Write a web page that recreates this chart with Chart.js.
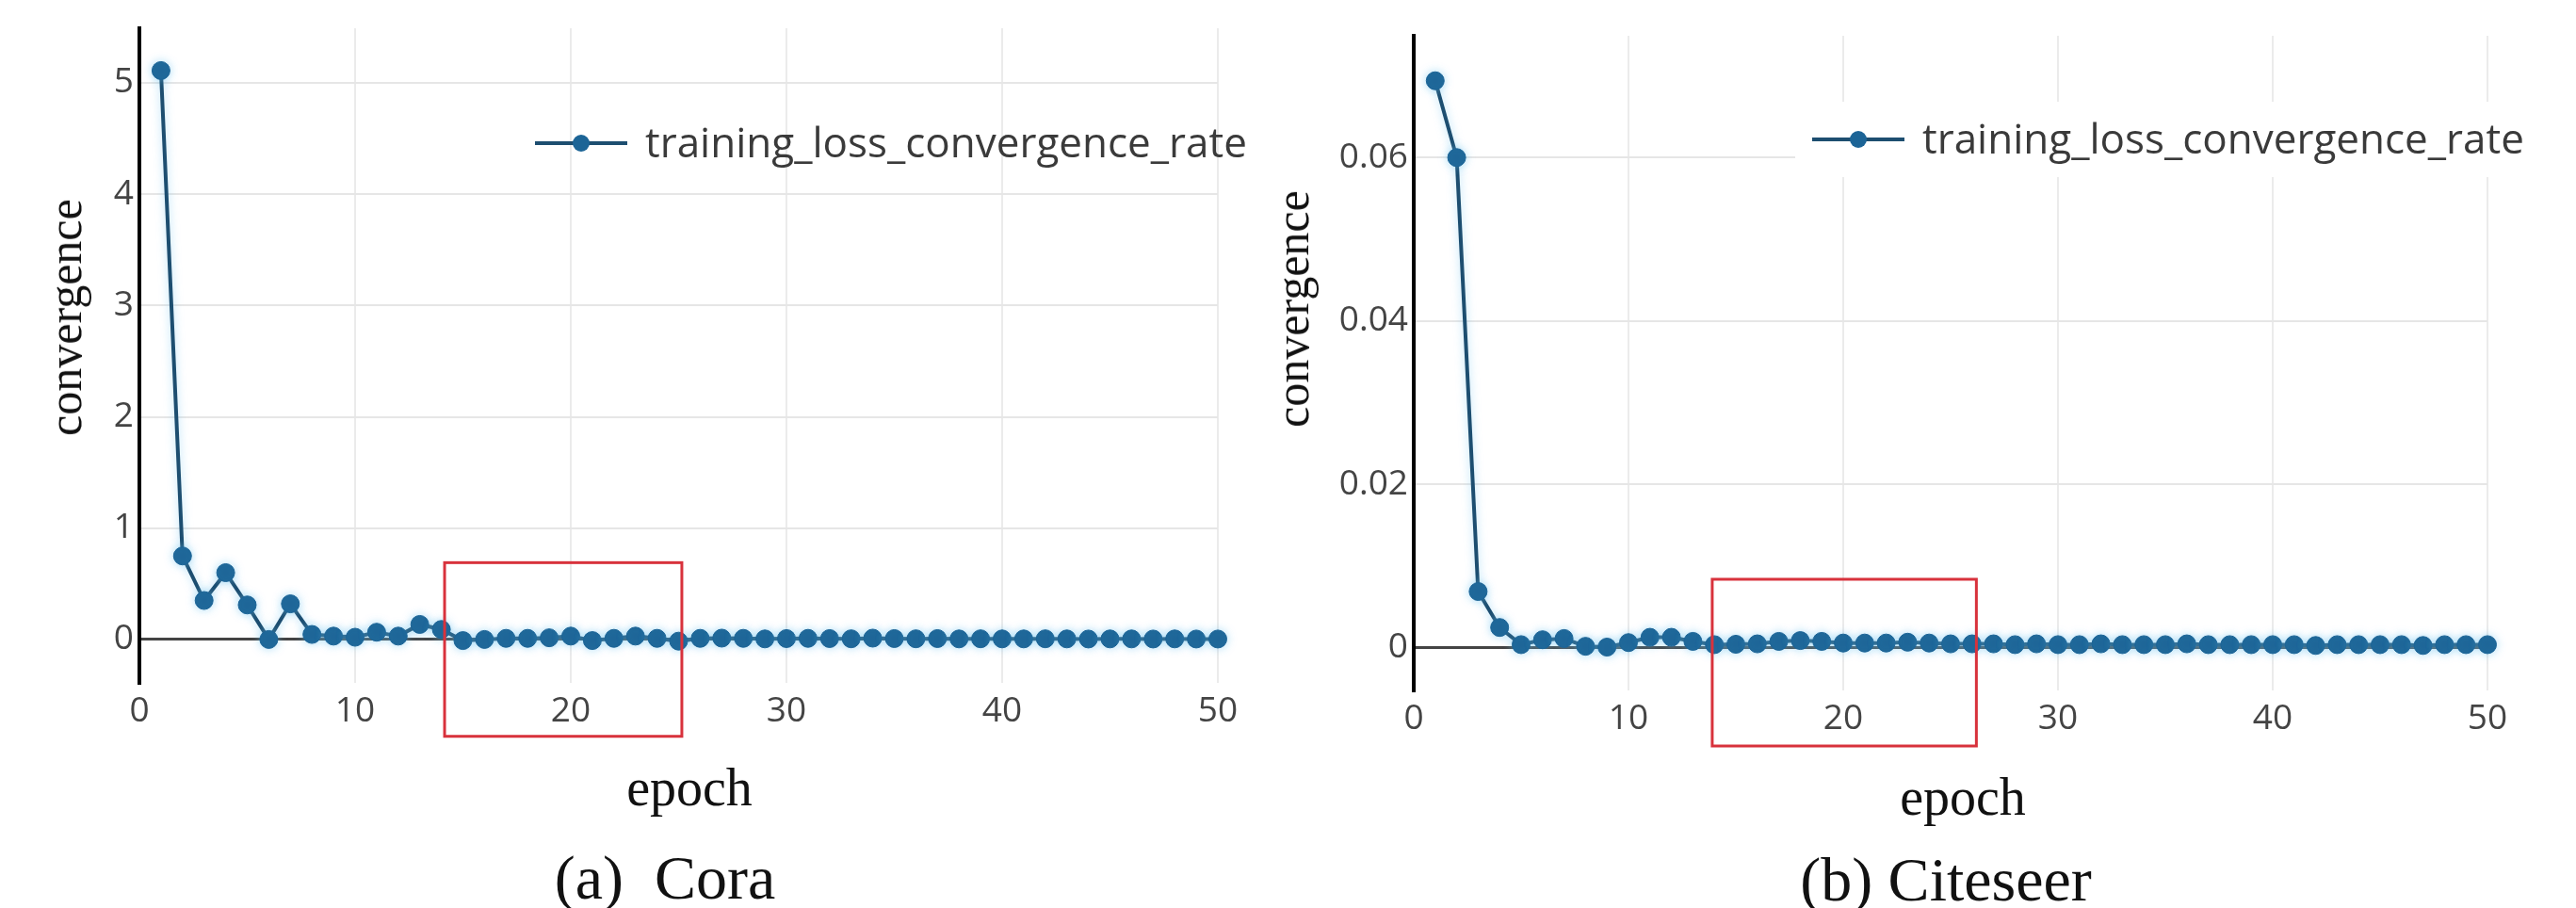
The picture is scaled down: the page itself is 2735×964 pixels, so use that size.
<!DOCTYPE html>
<html>
<head>
<meta charset="utf-8">
<script src="https://cdn.jsdelivr.net/npm/chart.js@4.4.0/dist/chart.umd.min.js"></script>
<style>
body { margin:0; background:#fff; width:2735px; height:964px; position:relative; overflow:hidden; }
canvas { position:absolute; top:0; }
.lbl { position:absolute; font-family:'Liberation Serif','Times New Roman',serif; color:#111; white-space:nowrap; transform:translate(-50%,-50%); }
.rot { transform:translate(-50%,-50%) rotate(-90deg); }
</style>
</head>
<body>
<canvas id="cora" width="1367" height="800" style="left:0"></canvas>
<canvas id="citeseer" width="1368" height="800" style="left:1367px"></canvas>
<div class="lbl rot" style="left:69px;top:337px;font-size:50px">convergence</div>
<div class="lbl rot" style="left:1372px;top:328px;font-size:50px">convergence</div>
<div class="lbl" style="left:732px;top:836px;font-size:56px">epoch</div>
<div class="lbl" style="left:2084px;top:846px;font-size:56px">epoch</div>
<div class="lbl" style="left:706px;top:932px;font-size:66px">(a)&nbsp;&nbsp;Cora</div>
<div class="lbl" style="left:2066px;top:934px;font-size:66px">(b) Citeseer</div>
<script>
var seriesName = 'training_loss_convergence_rate'
var epochs = [1,2,3,4,5,6,7,8,9,10,11,12,13,14,15,16,17,18,19,20,21,22,23,24,25,
              26,27,28,29,30,31,32,33,34,35,36,37,38,39,40,41,42,43,44,45,46,47,48,49,50]
var xTicks = [0,10,20,30,40,50]

var coraLoss = [5.11,0.75,0.35,0.60,0.31,0.0,0.32,0.045,0.03,0.02,0.065,0.03,0.135,0.09,-0.01,
                0.0,0.01,0.01,0.015,0.03,-0.01,0.01,0.03,0.01,-0.015,0.01,0.012,0.01,0.005,0.008,
                0.01,0.008,0.006,0.012,0.008,0.006,0.008,0.005,0.006,0.005,0.005,0.006,0.005,0.004,
                0.005,0.005,0.004,0.005,0.004,0.004]
var coraTicks = [0,1,2,3,4,5]

var citeseerLoss = [0.0694,0.0600,0.0069,0.0025,0.0004,0.0010,0.00115,0.0002,0.0001,0.00065,0.0013,
                    0.0013,0.0008,0.0004,0.00045,0.0005,0.0008,0.0009,0.0008,0.0006,0.0006,0.0006,
                    0.0007,0.0006,0.0005,0.0005,0.0005,0.0004,0.0005,0.0004,0.0004,0.0005,0.0004,
                    0.0004,0.0004,0.0005,0.0004,0.0004,0.0004,0.0004,0.0004,0.0003,0.0004,0.0004,
                    0.0004,0.0004,0.0003,0.0004,0.0004,0.0004]
var citeseerTicks = [0,0.02,0.04,0.06]

var lineColor = '#1d4e70'
var markerColor = '#1c6496'

Chart.defaults.font.family = "'Open Sans', sans-serif"

// plotly-like legend sitting inside the plot
var legendPlugin = {
    id: 'plotLegend',
    afterDraw(chart, args, opts) {
        var ctx = chart.ctx
        var label = chart.data.datasets[0].label
        ctx.save()
        ctx.font = opts.size + "px 'Open Sans'"
        var tw = ctx.measureText(label).width
        if (opts.bg) {
            ctx.fillStyle = '#fff'
            ctx.fillRect(opts.x - 18, opts.y - 40, 98 + 19 + tw + 30, 80)
        }
        ctx.strokeStyle = lineColor
        ctx.lineWidth = 4
        ctx.beginPath()
        ctx.moveTo(opts.x, opts.y)
        ctx.lineTo(opts.x + 98, opts.y)
        ctx.stroke()
        ctx.fillStyle = markerColor
        ctx.beginPath()
        ctx.arc(opts.x + 49, opts.y, 9, 0, Math.PI * 2)
        ctx.fill()
        ctx.fillStyle = '#3a3a3a'
        ctx.textBaseline = 'middle'
        ctx.fillText(label, opts.x + 117, opts.y + 2)
        ctx.restore()
    }
}

// soft halo round the line, as in the scanned figure
var glowPlugin = {
    id: 'glow',
    beforeDatasetsDraw(chart) {
        chart.ctx.save()
        chart.ctx.shadowColor = 'rgba(110,195,240,0.55)'
        chart.ctx.shadowBlur = 10
    },
    afterDatasetsDraw(chart) {
        chart.ctx.restore()
    }
}

// red highlight box, given in data units
var boxPlugin = {
    id: 'zoomBox',
    afterDatasetsDraw(chart, args, opts) {
        var xs = chart.scales.x, ys = chart.scales.y
        var ctx = chart.ctx
        var x0 = xs.getPixelForValue(opts.x0), x1 = xs.getPixelForValue(opts.x1)
        var y0 = ys.getPixelForValue(opts.y1), y1 = ys.getPixelForValue(opts.y0)
        ctx.save()
        ctx.strokeStyle = '#d8323c'
        ctx.lineWidth = 3
        ctx.strokeRect(x0, y0, x1 - x0, y1 - y0)
        ctx.restore()
    }
}

function make_chart(id, values, yTicks, yMin, yMax, area, box, legend) {
    var canvas = document.getElementById(id)
    var W = canvas.width, H = canvas.height
    return new Chart(canvas.getContext('2d'), {
        type: 'line',
        data: {
            datasets: [{
                label: seriesName,
                data: epochs.map((e, i) => ({x: e, y: values[i]})),
                borderColor: lineColor,
                borderWidth: 4,
                pointRadius: 9.5,
                pointBackgroundColor: markerColor,
                pointBorderColor: markerColor,
                pointBorderWidth: 1,
                tension: 0,
                clip: false
            }]
        },
        options: {
            responsive: false,
            animation: false,
            devicePixelRatio: 1,
            layout: { padding: { left: 0, top: area.top, right: W - area.right, bottom: H - area.bottom - 60 } },
            plugins: {
                legend: { display: false },
                tooltip: { enabled: false },
                plotLegend: legend,
                zoomBox: box
            },
            scales: {
                x: {
                    type: 'linear', min: 0, max: 50,
                    afterBuildTicks: s => { s.ticks = xTicks.map(v => ({value: v})) },
                    afterFit: s => { s.height = 60 },
                    border: { display: false },
                    grid: {
                        drawTicks: false,
                        color: c => c.tick && c.tick.value === 0 ? 'rgba(0,0,0,0)' : '#ebebeb',
                        lineWidth: 2
                    },
                    ticks: { color: '#444', font: { size: 37 }, padding: 8, maxRotation: 0 }
                },
                y: {
                    type: 'linear', min: yMin, max: yMax,
                    afterBuildTicks: s => { s.ticks = yTicks.map(v => ({value: v})) },
                    afterFit: s => { s.width = area.left },
                    border: { display: true, color: '#000', width: 4 },
                    grid: {
                        drawTicks: false,
                        color: c => c.tick && c.tick.value === 0 ? '#444' : '#e6e6e6',
                        lineWidth: c => c.tick && c.tick.value === 0 ? 3 : 2
                    },
                    ticks: { color: '#444', font: { size: 37 }, padding: 6, callback: v => String(v) }
                }
            }
        },
        plugins: [glowPlugin, boxPlugin, legendPlugin]
    })
}

make_chart('cora', coraLoss, coraTicks, -0.39, 5.49,
    {left: 148, right: 1293, top: 30, bottom: 725},
    {x0: 14.15, x1: 25.15, y0: -0.87, y1: 0.69},
    {x: 568, y: 152, size: 44, bg: false})

make_chart('citeseer', citeseerLoss, citeseerTicks, -0.0052, 0.0749,
    {left: 134, right: 1274, top: 38, bottom: 733},
    {x0: 13.9, x1: 26.2, y0: -0.012, y1: 0.0084},
    {x: 557, y: 148, size: 44, bg: true})
</script>
</body>
</html>
